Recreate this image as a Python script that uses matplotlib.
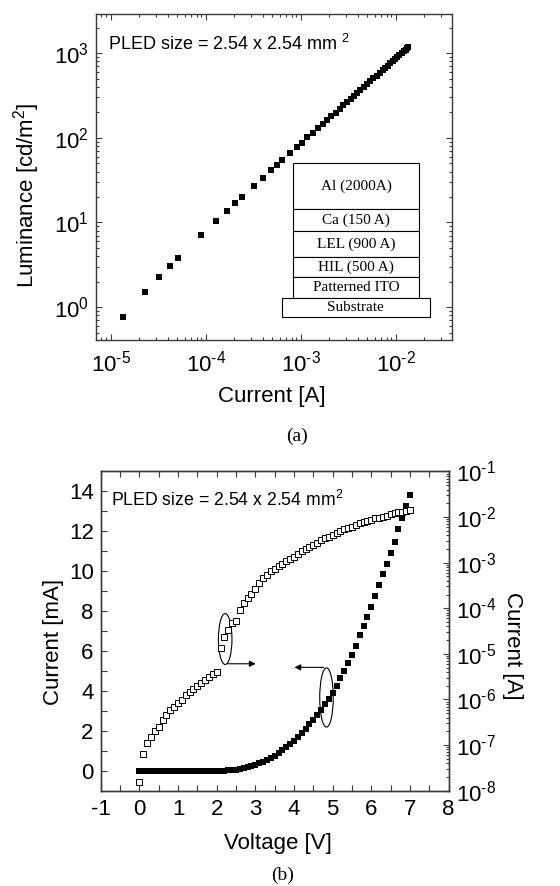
import numpy as np
import matplotlib
matplotlib.use("Agg")
import matplotlib.pyplot as plt
from matplotlib.patches import Rectangle, Ellipse
from matplotlib.ticker import LogLocator, FuncFormatter, NullFormatter

plt.rcParams['font.family'] = ['Liberation Sans', 'DejaVu Sans']
plt.rcParams['mathtext.fontset'] = 'custom'
plt.rcParams['mathtext.rm'] = 'Liberation Sans'
plt.rcParams['mathtext.it'] = 'Liberation Sans:italic'
plt.rcParams['mathtext.bf'] = 'Liberation Sans:bold'
plt.rcParams['axes.unicode_minus'] = False

### (a) luminance vs current
lum_current = [1.34e-5, 2.28e-5, 3.23e-5, 4.2e-5, 5.15e-5, 8.85e-5, 1.27e-4,
               1.66e-4, 2.03e-4, 2.41e-4, 3.22e-4, 4.0e-4, 4.83e-4, 5.58e-4,
               6.4e-4, 7.76e-4, 9.1e-4,
               1.02e-3, 1.17e-3, 1.33e-3, 1.50e-3, 1.70e-3, 1.90e-3, 2.10e-3,
               2.32e-3, 2.56e-3, 2.80e-3, 3.05e-3, 3.35e-3, 3.60e-3, 3.88e-3,
               4.25e-3, 4.65e-3, 5.02e-3, 5.40e-3, 5.80e-3, 6.27e-3, 6.78e-3,
               7.25e-3, 7.72e-3, 8.20e-3, 8.75e-3, 9.30e-3, 9.85e-3, 1.038e-2,
               1.093e-2, 1.148e-2, 1.210e-2, 1.265e-2, 1.327e-2, 1.36e-2]
luminance = [0.76, 1.52, 2.26, 3.05, 3.83, 7.04, 10.4,
             13.5, 16.9, 20.0, 27.0, 33.8, 41.3, 48.0,
             55.0, 67.0, 78.0,
             88, 101, 114, 129, 146, 163, 181,
             199, 221, 242, 263, 289, 311, 335,
             367, 402, 434, 467, 502, 543, 587,
             628, 669, 711, 759, 807, 855, 901,
             949, 997, 1051, 1099, 1153, 1195]

layers = ['Al (2000A)', 'Ca (150 A)', 'LEL (900 A)', 'HIL (500 A)', 'Patterned ITO']
layer_bounds = [(0.401, 0.542), (0.335, 0.401), (0.253, 0.335), (0.192, 0.253), (0.130, 0.192)]

### (b) current vs voltage
voltage = [0.0, 0.1, 0.2, 0.3, 0.4, 0.5, 0.6, 0.7, 0.8, 0.9,
           1.0, 1.1, 1.2, 1.3, 1.4, 1.5, 1.6, 1.7, 1.8, 1.9,
           2.0, 2.1, 2.2, 2.3, 2.4, 2.5, 2.6, 2.7, 2.8, 2.9,
           3.0, 3.1, 3.2, 3.3, 3.4, 3.5, 3.6, 3.7, 3.8, 3.9,
           4.0, 4.1, 4.2, 4.3, 4.4, 4.5, 4.6, 4.7, 4.8, 4.9,
           5.0, 5.1, 5.2, 5.3, 5.4, 5.5, 5.6, 5.7, 5.8, 5.9,
           6.0, 6.1, 6.2, 6.3, 6.4, 6.5, 6.6, 6.7, 6.8, 6.9, 7.0]
current_mA = [0.00, 0.00, 0.00, 0.00, 0.00, 0.00, 0.00, 0.00, 0.00, 0.00,
              0.00, 0.00, 0.00, 0.00, 0.00, 0.00, 0.00, 0.00, 0.00, 0.00,
              0.00, 0.01, 0.01, 0.02, 0.04, 0.06, 0.09, 0.13, 0.18, 0.24,
              0.30, 0.37, 0.45, 0.54, 0.64, 0.75, 0.88, 1.02, 1.17, 1.33,
              1.50, 1.70, 1.90, 2.10, 2.32, 2.56, 2.80, 3.05, 3.35, 3.60,
              3.88, 4.25, 4.65, 5.02, 5.40, 5.80, 6.27, 6.78, 7.25, 7.72,
              8.20, 8.75, 9.30, 9.85, 10.38, 10.93, 11.48, 12.10, 12.65, 13.27, 13.82]
log_current_A = [-7.80, -7.20, -6.96, -6.82, -6.69, -6.60, -6.45, -6.34, -6.24, -6.17,
                 -6.08, -6.01, -5.90, -5.83, -5.77, -5.70, -5.65, -5.57, -5.50, -5.44,
                 -5.40, -4.87, -4.62, -4.47, -4.33, -4.27, -4.04, -3.89, -3.77, -3.68,
                 -3.58, -3.45, -3.34, -3.27, -3.19, -3.14, -3.08, -3.03, -2.96, -2.92,
                 -2.87, -2.81, -2.75, -2.70, -2.65, -2.61, -2.56, -2.50, -2.46, -2.43,
                 -2.39, -2.34, -2.30, -2.27, -2.24, -2.21, -2.17, -2.14, -2.11, -2.08,
                 -2.06, -2.03, -2.01, -1.99, -1.97, -1.94, -1.92, -1.90, -1.89, -1.87, -1.84]
current_A = 10.0 ** np.array(log_current_A)

SPINE = '#3a3a3a'
TICK_FS = 16
LABEL_FS = 16
SERIF = ['Liberation Serif', 'DejaVu Serif']


def decade_label(v, pos):
    # plain hyphen in the exponent, like the instrument software prints it
    e = int(round(np.log10(v)))
    return r'$\mathregular{10^{\text{%d}}}$' % e


def style_axes(ax):
    for s in ax.spines.values():
        s.set_color(SPINE)
        s.set_linewidth(1.0)
    ax.tick_params(which='both', direction='in', colors=SPINE,
                   labelcolor='black', labelsize=TICK_FS, width=0.8)
    ax.tick_params(which='major', length=4, pad=5)
    ax.tick_params(which='minor', length=2.2)


def log_ticks(axis):
    axis.set_major_locator(LogLocator(base=10, numticks=20))
    axis.set_minor_locator(LogLocator(base=10, subs=np.arange(2, 10), numticks=20))
    axis.set_major_formatter(FuncFormatter(decade_label))
    axis.set_minor_formatter(NullFormatter())


fig = plt.figure(figsize=(5.6, 8.86), dpi=100)

# ---- panel (a)
ax1 = fig.add_axes([0.1714, 0.6163, 0.6357, 0.3679])
ax1.loglog(lum_current, luminance, 's', color='black', ms=4.8, mew=0)
ax1.set_xlim(7e-6, 0.039)
ax1.set_ylim(0.41, 2900)
log_ticks(ax1.xaxis)
log_ticks(ax1.yaxis)
style_axes(ax1)
ax1.tick_params(which='both', top=True, right=True)
ax1.tick_params(axis='x', which='major', pad=8)
ax1.set_xlabel('Current [A]', fontsize=LABEL_FS)
ax1.set_ylabel('Luminance [cd/m$^{2}$]', fontsize=LABEL_FS)
ax1.xaxis.set_label_coords(0.4935, -0.142)
ax1.yaxis.set_label_coords(-0.153, 0.443)
ax1.text(0.034, 0.89, 'PLED size = 2.54 x 2.54 mm $^{2}$', transform=ax1.transAxes,
         fontsize=13, va='baseline')

# device stack
for name, (y0, y1) in zip(layers, layer_bounds):
    ax1.add_patch(Rectangle((0.554, y0), 0.353, y1 - y0, transform=ax1.transAxes,
                            facecolor='white', edgecolor='black', lw=0.8, zorder=3))
    ax1.text(0.7305, (y0 + y1) / 2, name, transform=ax1.transAxes, ha='center',
             va='center', family=SERIF, fontsize=11, zorder=4)
ax1.add_patch(Rectangle((0.525, 0.066), 0.417, 0.060, transform=ax1.transAxes,
                        facecolor='#888888', edgecolor='none', zorder=2))
ax1.add_patch(Rectangle((0.522, 0.070), 0.416, 0.060, transform=ax1.transAxes,
                        facecolor='white', edgecolor='black', lw=0.8, zorder=3))
ax1.text(0.73, 0.100, 'Substrate', transform=ax1.transAxes, ha='center',
         va='center', family=SERIF, fontsize=11, zorder=4)

fig.text(296.7 / 560, 1 - 436.7 / 886, '(a)', ha='center', va='center',
         family=SERIF, fontsize=14)

# ---- panel (b)
ax2 = fig.add_axes([0.1798, 0.1076, 0.6214, 0.3603])
ax2.plot(voltage, current_mA, 's', color='black', ms=4.2, mew=0)
ax2.set_xlim(-1, 8)
ax2.set_ylim(-1, 15)
ax2.set_xticks(range(-1, 9))
ax2.set_xticks(np.arange(-0.5, 8, 1.0), minor=True)
ax2.set_yticks(range(0, 15, 2))
ax2.set_yticks(range(1, 15, 2), minor=True)
style_axes(ax2)
ax2.tick_params(which='both', top=True, right=False)
ax2.tick_params(which='minor', top=True, length=4)
ax2.tick_params(axis='x', which='major', pad=6)
ax2.set_xlabel('Voltage [V]', fontsize=LABEL_FS)
ax2.set_ylabel('Current [mA]', fontsize=LABEL_FS)
ax2.xaxis.set_label_coords(0.510, -0.132)
ax2.yaxis.set_label_coords(-0.104, 0.467)
ax2.text(0.029, 0.892, 'PLED size = 2.54 x 2.54 mm$^{2}$', transform=ax2.transAxes,
         fontsize=12.7, va='baseline')

ax3 = ax2.twinx()
ax3.set_yscale('log')
ax3.plot(voltage, current_A, 's', mfc='white', mec='black', ms=4.8, mew=0.7)
ax3.set_ylim(1e-8, 1e-1)
log_ticks(ax3.yaxis)
style_axes(ax3)
ax3.tick_params(which='both', left=False, right=True)
ax3.set_ylabel('Current [A]', fontsize=LABEL_FS, rotation=270, va='bottom')
ax3.yaxis.set_label_coords(1.152, 0.454)

# ellipses marking which axis each curve belongs to
ax2.add_patch(Ellipse((2.22, 6.6), 0.35, 2.55, fill=False, lw=0.8, ec='black'))
ax2.annotate('', xy=(3.08, 5.36), xytext=(2.22, 5.36),
             arrowprops=dict(arrowstyle='-|>', lw=0.8, color='black', mutation_scale=9))
ax2.add_patch(Ellipse((4.84, 3.67), 0.35, 2.97, fill=False, lw=0.8, ec='black'))
ax2.annotate('', xy=(3.94, 5.18), xytext=(4.84, 5.18),
             arrowprops=dict(arrowstyle='-|>', lw=0.8, color='black', mutation_scale=9))

fig.text(282.7 / 560, 1 - 875.5 / 886, '(b)', ha='center', va='center',
         family=SERIF, fontsize=14)

fig.savefig('out.png', dpi=100)
